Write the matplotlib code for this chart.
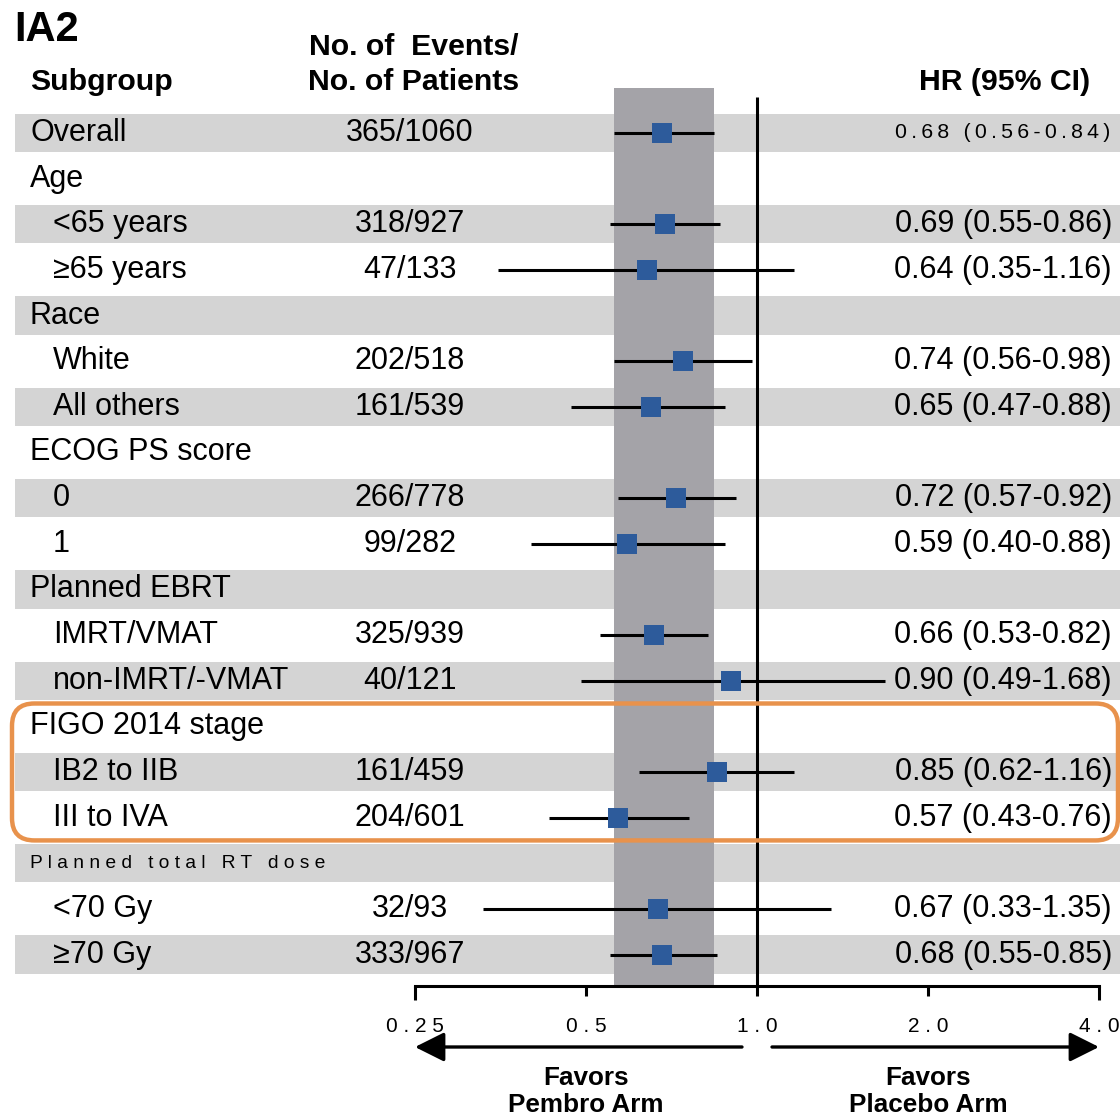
"""Forest plot: IA2 subgroup hazard ratios."""
import numpy as np
import matplotlib
matplotlib.use("Agg")
import matplotlib.pyplot as plt
from matplotlib.patches import FancyBboxPatch
from matplotlib.ticker import FixedLocator, FixedFormatter

plt.rcParams.update({"font.family": ["Liberation Sans", "DejaVu Sans"], "font.size": 22})

labels = ["Overall", "Age", "<65 years", "≥65 years", "Race", "White", "All others",
          "ECOG PS score", "0", "1", "Planned EBRT", "IMRT/VMAT", "non-IMRT/-VMAT",
          "FIGO 2014 stage", "IB2 to IIB", "III to IVA", "Planned total RT dose",
          "<70 Gy", "≥70 Gy"]
indent = [0, 0, 1, 1, 0, 1, 1, 0, 1, 1, 0, 1, 1, 0, 1, 1, 0, 1, 1]
events = ["365/1060", "", "318/927", "47/133", "", "202/518", "161/539", "",
          "266/778", "99/282", "", "325/939", "40/121", "", "161/459", "204/601",
          "", "32/93", "333/967"]
nan = np.nan
hr = [0.68, nan, 0.69, 0.64, nan, 0.74, 0.65, nan, 0.72, 0.59, nan, 0.66, 0.90,
      nan, 0.85, 0.57, nan, 0.67, 0.68]
lo = [0.56, nan, 0.55, 0.35, nan, 0.56, 0.47, nan, 0.57, 0.40, nan, 0.53, 0.49,
      nan, 0.62, 0.43, nan, 0.33, 0.55]
hi = [0.84, nan, 0.86, 1.16, nan, 0.98, 0.88, nan, 0.92, 0.88, nan, 0.82, 1.68,
      nan, 1.16, 0.76, nan, 1.35, 0.85]
ticks = [0.25, 0.5, 1.0, 2.0, 4.0]
tick_labels = ["0.25", "0.5", "1.0", "2.0", "4.0"]
highlight = (13, 15)   # FIGO rows boxed in orange

W, H = 1120, 1116
X1, OCT = 757, 171      # pixel of HR=1, pixels per doubling
Y0, DY = 133, 45.64     # pixel of first row, row pitch
HEAD = 21.8


def hx(px):
    return 2 ** ((px - X1) / OCT)


def ry(py):
    return (py - Y0) / DY


def spaced(s, sep="\u2009"):
    return sep.join(s)


fig = plt.figure(figsize=(W / 100, H / 100), dpi=100)
ax = fig.add_axes([0, 0, 1, 1])
ax.set_xscale("log", base=2)
ax.set_xlim(hx(0), hx(W))
ax.set_ylim(ry(H), ry(0))
ax.patch.set_visible(False)
for s in ["top", "left", "right"]:
    ax.spines[s].set_visible(False)
ax.spines["bottom"].set_position(("data", ry(986)))
ax.spines["bottom"].set_bounds(ticks[0], ticks[-1])
ax.spines["bottom"].set_linewidth(2.2)
ax.set_yticks([])

ends = [0, len(ticks) - 1]
ax.xaxis.set_major_locator(FixedLocator([ticks[i] for i in ends]))
ax.xaxis.set_major_formatter(FixedFormatter([spaced(tick_labels[i], " ") for i in ends]))
ax.xaxis.set_minor_locator(FixedLocator(ticks[1:-1]))
ax.xaxis.set_minor_formatter(FixedFormatter([spaced(t, " ") for t in tick_labels[1:-1]]))
ax.tick_params(axis="x", which="major", length=10, width=2.2, pad=12.5, labelsize=15)
ax.tick_params(axis="x", which="minor", length=7.5, width=2.2, pad=15, labelsize=15)

rows = np.arange(len(labels))
for i in rows[::2]:
    ax.axhspan(i - 0.42, i + 0.42, xmin=15 / W, xmax=1, color="#d4d4d4", lw=0, zorder=0)

ax.axvspan(lo[0], hi[0], ymin=1 - 985 / H, ymax=1 - 88 / H, color="#a4a3a8", lw=0, zorder=1)
ax.vlines(1.0, ry(97), ry(986), color="k", lw=2.2, zorder=2)

ok = ~np.isnan(hr)
ax.hlines(rows[ok], np.array(lo)[ok], np.array(hi)[ok], color="k", lw=2.2, zorder=3)
ax.scatter(np.array(hr)[ok], rows[ok], marker="s", s=210, color="#2d5b9b", lw=0, zorder=4)

for i in rows:
    lab = labels[i]
    if i == 16:
        ax.text(hx(30), i, spaced(lab, " "), fontsize=13.8, va="center")
    else:
        ax.text(hx(53 if indent[i] else 30), i, lab, va="center")
    if events[i]:
        ax.text(hx(410), i, events[i], ha="center", va="center")
    if ok[i]:
        txt = f"{hr[i]:.2f} ({lo[i]:.2f}-{hi[i]:.2f})"
        if i == 0:
            ax.text(hx(1110), i, spaced(txt), fontsize=15.3, ha="right", va="center")
        else:
            ax.text(hx(1112), i, txt, ha="right", va="center")

# headers
ax.text(hx(14), ry(30), "IA2", fontsize=30, weight="bold", va="center")
ax.text(hx(30), ry(82), "Subgroup", fontsize=HEAD, weight="bold", va="center")
ax.text(hx(414), ry(47), "No. of  Events/", fontsize=HEAD, weight="bold", ha="center", va="center")
ax.text(hx(414), ry(82), "No. of Patients", fontsize=HEAD, weight="bold", ha="center", va="center")
ax.text(hx(1090), ry(82), "HR (95% CI)", fontsize=HEAD, weight="bold", ha="right", va="center")

# direction arrows
ya = ry(1047)
arr = dict(arrowstyle="-|>,head_length=0.9,head_width=0.45", lw=2.4, color="k",
           shrinkA=0, shrinkB=0, mutation_scale=20)
ax.annotate("", xy=(ticks[0], ya), xytext=(hx(742), ya), arrowprops=arr)
ax.annotate("", xy=(ticks[-1], ya), xytext=(hx(772), ya), arrowprops=arr)
for x, side in [(ticks[1], "Pembro Arm"), (ticks[3], "Placebo Arm")]:
    ax.text(x, ry(1078), "Favors", fontsize=18.8, weight="bold", ha="center", va="center")
    ax.text(x, ry(1105), side, fontsize=18.8, weight="bold", ha="center", va="center")

# orange highlight box around FIGO rows
to_fig = ax.transData + fig.transFigure.inverted()
_, yb = to_fig.transform((1, highlight[1] + 0.5))
_, yt = to_fig.transform((1, highlight[0] - 0.5))
box = FancyBboxPatch((12 / W, yb), 1106 / W, yt - yb, transform=fig.transFigure,
                     boxstyle="round,pad=0,rounding_size=0.02", fill=False,
                     ec="#e8924c", lw=3.2, zorder=5)
fig.patches.append(box)

fig.savefig("out.png", dpi=100)
